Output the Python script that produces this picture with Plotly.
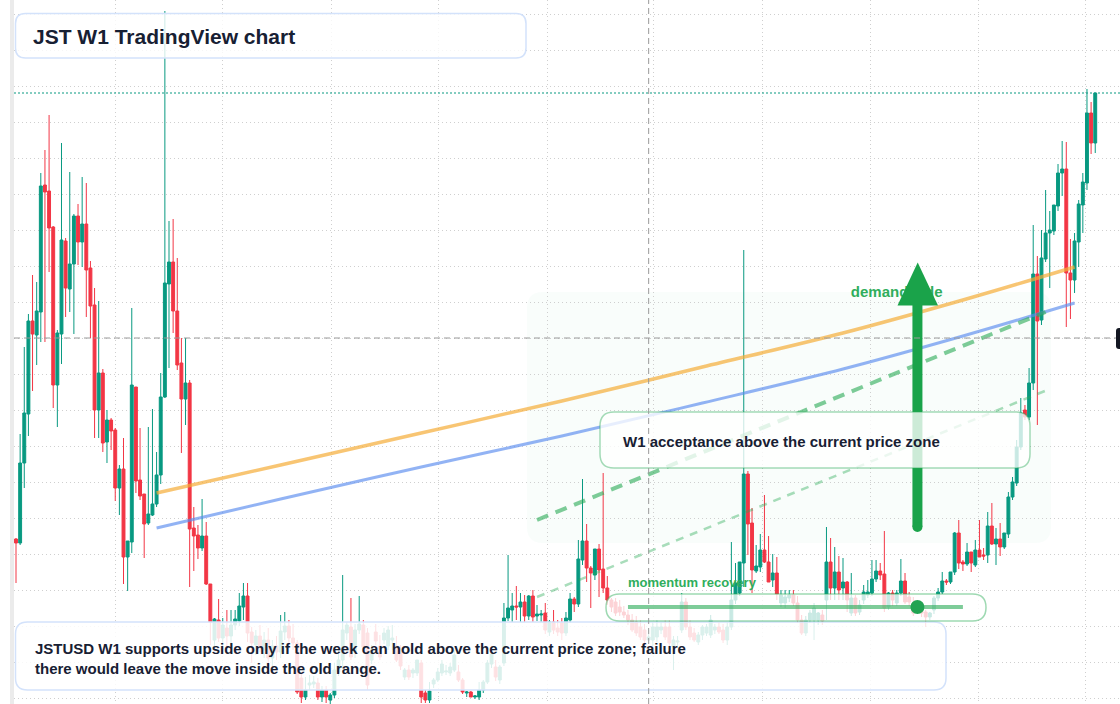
import pandas as pd
import plotly.graph_objects as go

W, H = 1120, 704
ML = 14              # left margin (px) of the plot area
FIRST_PX = 16.0      # pixel of the first weekly candle
PX_PER_BAR = 4.135   # pixel spacing of weekly candles

UP = "#089981"
DN = "#f23645"
INK = "#172033"
GREEN = "#1aa34a"
FONT = "Liberation Sans, Arial, Helvetica, sans-serif"

# ---- weekly OHLC, prices in units of 0.0001 USD -------------------------
open_e4 = [
    201, 197, 277, 326, 419, 405, 428, 555, 549, 513,
    355, 406, 499, 451, 476, 524, 498, 516, 472, 435,
    330, 367, 298, 320, 310, 252, 271, 183, 198, 353,
    260, 246, 217, 225, 236, 265, 343, 456, 478, 429,
    377, 341, 357, 212, 205, 192, 204, 156, 100, 120,
    102, 112, 104, 115, 119, 133, 144, 108, 95, 104,
    90, 100, 82, 94, 88, 108, 114, 102, 97, 62,
    43, 55, 56, 57, 43, 50, 40, 45, 68, 80,
    107, 113, 88, 110, 115, 107, 80, 108, 94, 100,
    94, 100, 94, 88, 63, 70, 67, 67, 77, 47,
    40, 56, 60, 67, 68, 67, 70, 68, 60, 47,
    48, 43, 43, 50, 58, 76, 73, 60, 77, 122,
    130, 134, 133, 138, 124, 144, 124, 125, 127, 108,
    118, 112, 117, 107, 120, 141, 136, 180, 199, 172,
    165, 191, 171, 152, 140, 138, 133, 128, 125, 120,
    118, 113, 110, 100, 100, 103, 110, 113, 113, 93,
    98, 110, 138, 113, 107, 98, 105, 107, 105, 110,
    113, 110, 100, 113, 140, 147, 177, 266, 217, 169,
    173, 190, 178, 160, 167, 137, 137, 142, 145, 137,
    120, 107, 120, 120, 120, 125, 140, 178, 152, 168,
    152, 158, 127, 142, 128, 140, 145, 147, 161, 169,
    166, 133, 147, 137, 147, 159, 143, 137, 130, 133,
    128, 123, 130, 142, 148, 159, 158, 168, 207, 178,
    176, 188, 175, 190, 185, 185, 214, 196, 201, 193,
    206, 243, 257, 293, 330, 323, 357, 466, 420, 481,
    507, 509, 534, 567, 571, 467, 460, 498, 535, 557,
    627, 597]
high_e4 = [
    202, 306, 393, 426, 465, 458, 567, 590, 625, 514,
    410, 597, 502, 568, 526, 536, 563, 557, 479, 452,
    439, 371, 330, 322, 312, 275, 302, 199, 432, 353,
    312, 246, 313, 331, 288, 367, 729, 519, 521, 482,
    402, 402, 360, 233, 215, 241, 218, 156, 122, 141,
    122, 130, 130, 130, 147, 157, 157, 113, 110, 115,
    108, 112, 100, 104, 125, 128, 120, 116, 100, 68,
    63, 65, 64, 62, 54, 54, 47, 77, 90, 165,
    118, 142, 116, 144, 120, 112, 95, 116, 105, 112,
    114, 115, 104, 95, 72, 75, 72, 80, 80, 50,
    58, 62, 72, 80, 75, 77, 90, 75, 62, 49,
    49, 45, 58, 60, 80, 90, 80, 75, 137, 185,
    147, 154, 147, 145, 145, 150, 135, 130, 137, 120,
    130, 120, 122, 128, 147, 143, 200, 261, 216, 174,
    191, 196, 267, 164, 142, 142, 140, 134, 130, 126,
    124, 120, 116, 110, 118, 120, 118, 120, 120, 104,
    104, 147, 142, 120, 112, 108, 115, 116, 125, 116,
    118, 116, 118, 198, 177, 178, 490, 269, 232, 195,
    206, 245, 204, 186, 183, 150, 150, 150, 150, 144,
    125, 124, 130, 137, 128, 130, 213, 202, 193, 184,
    182, 159, 167, 145, 140, 155, 160, 180, 180, 177,
    209, 148, 150, 150, 181, 167, 148, 143, 137, 137,
    130, 128, 144, 152, 168, 161, 168, 208, 220, 180,
    197, 188, 200, 220, 192, 228, 237, 212, 217, 207,
    248, 263, 300, 342, 335, 372, 515, 484, 510, 550,
    529, 535, 576, 599, 598, 501, 507, 540, 567, 651,
    638, 647]
low_e4 = [
    157, 195, 252, 304, 349, 375, 398, 398, 468, 332,
    313, 376, 423, 428, 406, 475, 473, 423, 402, 302,
    302, 288, 277, 290, 239, 225, 156, 149, 187, 247,
    240, 182, 215, 224, 233, 256, 342, 372, 407, 370,
    287, 315, 153, 169, 181, 189, 155, 95, 92, 98,
    90, 93, 95, 110, 114, 120, 98, 77, 85, 88,
    82, 75, 72, 80, 82, 100, 95, 90, 46, 37,
    40, 50, 52, 40, 38, 37, 36, 42, 64, 72,
    100, 80, 82, 106, 90, 50, 76, 95, 80, 96,
    90, 90, 78, 70, 60, 60, 62, 64, 37, 37,
    37, 52, 58, 64, 65, 64, 68, 58, 46, 43,
    43, 41, 40, 47, 56, 72, 59, 56, 74, 119,
    118, 120, 118, 118, 120, 118, 119, 118, 106, 104,
    106, 104, 100, 104, 117, 128, 133, 175, 158, 132,
    160, 143, 147, 135, 128, 124, 124, 122, 115, 108,
    104, 100, 94, 96, 94, 98, 106, 100, 94, 70,
    92, 107, 110, 100, 98, 95, 100, 104, 102, 106,
    106, 97, 95, 110, 136, 144, 153, 185, 147, 167,
    168, 177, 158, 153, 140, 133, 132, 138, 134, 117,
    105, 104, 117, 100, 115, 115, 120, 140, 140, 140,
    140, 128, 124, 124, 125, 136, 142, 144, 158, 160,
    128, 130, 134, 134, 144, 136, 134, 124, 126, 123,
    113, 120, 126, 139, 146, 155, 156, 165, 171, 169,
    174, 168, 173, 183, 180, 177, 195, 175, 184, 191,
    202, 240, 254, 290, 320, 320, 350, 315, 415, 478,
    452, 505, 529, 544, 413, 421, 447, 473, 507, 550,
    586, 587]
close_e4 = [
    197, 277, 327, 419, 406, 429, 554, 548, 512, 355,
    407, 500, 452, 476, 524, 498, 516, 470, 434, 330,
    367, 297, 320, 309, 252, 271, 183, 199, 355, 259,
    244, 216, 226, 236, 265, 343, 457, 478, 429, 375,
    341, 357, 211, 204, 192, 204, 156, 118, 121, 102,
    115, 104, 115, 121, 134, 144, 107, 97, 104, 92,
    100, 82, 94, 88, 109, 114, 102, 97, 48, 43,
    50, 57, 58, 43, 50, 43, 45, 70, 80, 110,
    115, 83, 110, 116, 93, 55, 90, 99, 83, 107,
    110, 102, 80, 74, 70, 63, 70, 80, 43, 40,
    49, 60, 68, 76, 69, 73, 85, 60, 48, 48,
    43, 44, 50, 58, 77, 86, 63, 73, 122, 132,
    134, 133, 138, 124, 144, 123, 126, 126, 110, 118,
    110, 108, 107, 122, 141, 136, 181, 199, 172, 167,
    191, 170, 152, 140, 133, 127, 128, 125, 120, 110,
    107, 103, 100, 103, 113, 113, 113, 103, 97, 100,
    99, 138, 113, 103, 100, 105, 113, 113, 120, 113,
    108, 100, 113, 140, 157, 178, 266, 216, 170, 174,
    190, 178, 158, 167, 146, 145, 143, 145, 137, 120,
    107, 120, 127, 132, 127, 119, 178, 152, 168, 150,
    158, 140, 142, 127, 135, 148, 148, 161, 169, 165,
    132, 147, 140, 147, 159, 138, 138, 127, 133, 127,
    123, 127, 142, 148, 159, 158, 168, 207, 177, 176,
    188, 177, 190, 183, 184, 214, 196, 201, 193, 207,
    243, 258, 293, 327, 323, 357, 466, 419, 482, 507,
    510, 535, 567, 571, 467, 460, 499, 536, 558, 627,
    597, 647]

# ---- overlay drawings (bar index, price in 0.0001 USD) -------------------
orange_idx = [34, 64, 98, 132, 166, 200, 229, 256]
orange_e4 = [247, 275, 307, 339, 373, 407, 440, 473]
blue_idx = [34, 64, 98, 132, 166, 200, 229, 256]
blue_e4 = [212, 241, 273, 304, 337, 371, 404, 437]
dash_hi_idx = [126, 249]
dash_hi_e4 = [220, 428]
dash_lo_idx = [126, 250]
dash_lo_e4 = [143, 351]
momentum_idx = [148, 229]
momentum_e4 = 133
momentum_dot_idx = 218
crosshair_idx = 153
crosshair_e4 = 402
arrow_idx = 218
arrow_base_e4 = 213
arrow_neck_e4 = 436
demand_label_idx = 201.9
demand_label_e4 = 447

n = len(open_e4)
assert n == len(high_e4) == len(low_e4) == len(close_e4)

UNIT = 1e-4
weeks = pd.date_range("2020-07-16", periods=n, freq="7D")


def wk(i):
    return weeks[0] + pd.Timedelta(days=7 * i)


def price(v):
    return v * UNIT


def fx(px):
    return (px - ML) / (W - ML)


def fy(py):
    return 1 - py / H


def rrect(x0, y0, x1, y1, r):
    X, Y = fx, fy
    return (f"M {X(x0 + r)},{Y(y0)} L {X(x1 - r)},{Y(y0)} Q {X(x1)},{Y(y0)} {X(x1)},{Y(y0 + r)} "
            f"L {X(x1)},{Y(y1 - r)} Q {X(x1)},{Y(y1)} {X(x1 - r)},{Y(y1)} "
            f"L {X(x0 + r)},{Y(y1)} Q {X(x0)},{Y(y1)} {X(x0)},{Y(y1 - r)} "
            f"L {X(x0)},{Y(y0 + r)} Q {X(x0)},{Y(y0)} {X(x0 + r)},{Y(y0)} Z")


fig = go.Figure()

fig.add_trace(go.Candlestick(
    x=weeks,
    open=[price(v) for v in open_e4],
    high=[price(v) for v in high_e4],
    low=[price(v) for v in low_e4],
    close=[price(v) for v in close_e4],
    increasing=dict(line=dict(color=UP, width=1), fillcolor=UP),
    decreasing=dict(line=dict(color=DN, width=1), fillcolor=DN),
    whiskerwidth=0, hoverinfo="skip", showlegend=False,
))

fig.add_trace(go.Scatter(
    x=[wk(i) for i in orange_idx], y=[price(v) for v in orange_e4], mode="lines",
    line=dict(color="rgba(245,172,55,0.7)", width=3.5, shape="spline"),
    hoverinfo="skip", showlegend=False))
fig.add_trace(go.Scatter(
    x=[wk(i) for i in blue_idx], y=[price(v) for v in blue_e4], mode="lines",
    line=dict(color="rgba(90,140,238,0.66)", width=3, shape="spline"),
    hoverinfo="skip", showlegend=False))
fig.add_trace(go.Scatter(
    x=[wk(i) for i in dash_hi_idx], y=[price(v) for v in dash_hi_e4], mode="lines",
    line=dict(color="rgba(40,170,85,0.6)", width=4, dash="12px,8px"),
    hoverinfo="skip", showlegend=False))
fig.add_trace(go.Scatter(
    x=[wk(i) for i in dash_lo_idx], y=[price(v) for v in dash_lo_e4], mode="lines",
    line=dict(color="rgba(40,170,85,0.4)", width=2.5, dash="8px,7px"),
    hoverinfo="skip", showlegend=False))
fig.add_trace(go.Scatter(
    x=[wk(demand_label_idx)], y=[price(demand_label_e4)], mode="text",
    text=["<b>demand side</b>"], textposition="middle right",
    textfont=dict(family=FONT, size=15, color="#2fae5c"),
    hoverinfo="skip", showlegend=False))

shapes = []
# green demand zone
shapes.append(dict(type="path", xref="paper", yref="paper", layer="below",
                   path=rrect(527, 292, 1051, 543, 16),
                   fillcolor="rgba(34,197,94,0.028)", line=dict(width=0)))
# left strip
shapes.append(dict(type="rect", xref="paper", yref="paper", x0=fx(10), x1=fx(14), y0=0, y1=1,
                   fillcolor="#ebebeb", line=dict(width=0), layer="above"))
# arrow
shapes.append(dict(type="line", xref="x", yref="y", x0=wk(arrow_idx), x1=wk(arrow_idx),
                   y0=price(arrow_base_e4), y1=price(arrow_neck_e4),
                   line=dict(color=GREEN, width=10), layer="above"))
shapes.append(dict(type="circle", xref="x", yref="y", xsizemode="pixel", ysizemode="pixel",
                   xanchor=wk(arrow_idx), yanchor=price(arrow_base_e4),
                   x0=-5, x1=5, y0=-5, y1=5, fillcolor=GREEN, line=dict(width=0), layer="above"))
shapes.append(dict(type="path", xref="paper", yref="paper",
                   path=f"M {fx(897.5)},{fy(305.5)} L {fx(938)},{fy(305.5)} L {fx(917.7)},{fy(262.5)} Z",
                   fillcolor=GREEN, line=dict(width=0), layer="above"))
# annotation boxes
shapes.append(dict(type="path", xref="paper", yref="paper", path=rrect(15.5, 13.5, 526, 58, 10),
                   fillcolor="rgba(255,255,255,0.8)", line=dict(color="#d3e2fb", width=1.5), layer="above"))
shapes.append(dict(type="path", xref="paper", yref="paper", path=rrect(15.5, 622, 946, 690, 12),
                   fillcolor="rgba(255,255,255,0.85)", line=dict(color="#d3e2fb", width=1.5), layer="above"))
shapes.append(dict(type="path", xref="paper", yref="paper", path=rrect(600, 412, 1030, 468, 14),
                   fillcolor="rgba(255,255,255,0.78)", line=dict(color="rgba(40,170,85,0.42)", width=1.5),
                   layer="above"))
shapes.append(dict(type="path", xref="paper", yref="paper", path=rrect(606, 594, 986, 621, 13.5),
                   fillcolor="rgba(255,255,255,0.78)", line=dict(color="rgba(40,170,85,0.45)", width=1.5),
                   layer="above"))
# momentum line and dot
shapes.append(dict(type="line", xref="x", yref="y", x0=wk(momentum_idx[0]), x1=wk(momentum_idx[1]),
                   y0=price(momentum_e4), y1=price(momentum_e4),
                   line=dict(color="rgba(40,170,85,0.6)", width=4), layer="above"))
shapes.append(dict(type="circle", xref="x", yref="y", xsizemode="pixel", ysizemode="pixel",
                   xanchor=wk(momentum_dot_idx), yanchor=price(momentum_e4),
                   x0=-7, x1=7, y0=-7, y1=7, fillcolor="#22a352", line=dict(width=0), layer="above"))
# crosshair and last-price line
shapes.append(dict(type="line", xref="x", yref="paper", x0=wk(crosshair_idx), x1=wk(crosshair_idx),
                   y0=0, y1=1, line=dict(color="#9a9a9a", width=1, dash="6px,4px"), layer="above"))
shapes.append(dict(type="line", xref="paper", yref="y", x0=0, x1=1,
                   y0=price(crosshair_e4), y1=price(crosshair_e4),
                   line=dict(color="#9a9a9a", width=1, dash="6px,4px"), layer="above"))
shapes.append(dict(type="line", xref="paper", yref="y", x0=0, x1=1,
                   y0=price(close_e4[-1]), y1=price(close_e4[-1]),
                   line=dict(color=UP, width=1, dash="2px,2px"), layer="above"))
# price label stub at the right edge
shapes.append(dict(type="path", xref="paper", yref="paper", path=rrect(1116, 328, 1132, 349, 3),
                   fillcolor="#131722", line=dict(width=0), layer="above"))

annotations = [
    dict(text="<b>JST W1 TradingView chart</b>", x=fx(31), y=fy(36), xref="paper", yref="paper",
         xanchor="left", yanchor="middle", showarrow=False, font=dict(family=FONT, size=21, color=INK)),
    dict(text="<b>JSTUSD W1 supports upside only if the week can hold above the current price zone; failure"
              "<br>there would leave the move inside the old range.</b>",
         x=fx(33), y=fy(658), xref="paper", yref="paper", xanchor="left", yanchor="middle",
         align="left", showarrow=False, font=dict(family=FONT, size=15, color=INK)),
    dict(text="<b>W1 acceptance above the current price zone</b>", x=fx(621), y=fy(441),
         xref="paper", yref="paper", xanchor="left", yanchor="middle", showarrow=False,
         font=dict(family=FONT, size=15, color=INK)),
    dict(text="<b>momentum recovery</b>", x=fx(626), y=fy(582), xref="paper", yref="paper",
         xanchor="left", yanchor="middle", showarrow=False,
         font=dict(family=FONT, size=13, color="#2fae5c")),
]

x_start = wk(-(FIRST_PX - ML) / PX_PER_BAR)
x_end = wk((W - FIRST_PX) / PX_PER_BAR)

fig.update_layout(
    width=W, height=H, margin=dict(l=ML, r=0, t=0, b=0),
    paper_bgcolor="white", plot_bgcolor="white",
    showlegend=False, boxgap=0.3, boxgroupgap=0,
    shapes=shapes, annotations=annotations,
    xaxis=dict(type="date", range=[x_start, x_end], rangeslider=dict(visible=False),
               showticklabels=False, ticks="", zeroline=False, showline=False,
               showgrid=True, gridcolor="#cfcfcf", gridwidth=1, griddash="1px,3px",
               tick0="2021-01-01", dtick="M6"),
    yaxis=dict(range=[price(36), price(740)], showticklabels=False, ticks="", zeroline=False,
               showline=False, showgrid=True, gridcolor="#cfcfcf", gridwidth=1, griddash="1px,3px",
               tick0=price(5.7), dtick=price(36)),
    hovermode=False,
)

fig.write_html("out.html", config={"displayModeBar": False})
